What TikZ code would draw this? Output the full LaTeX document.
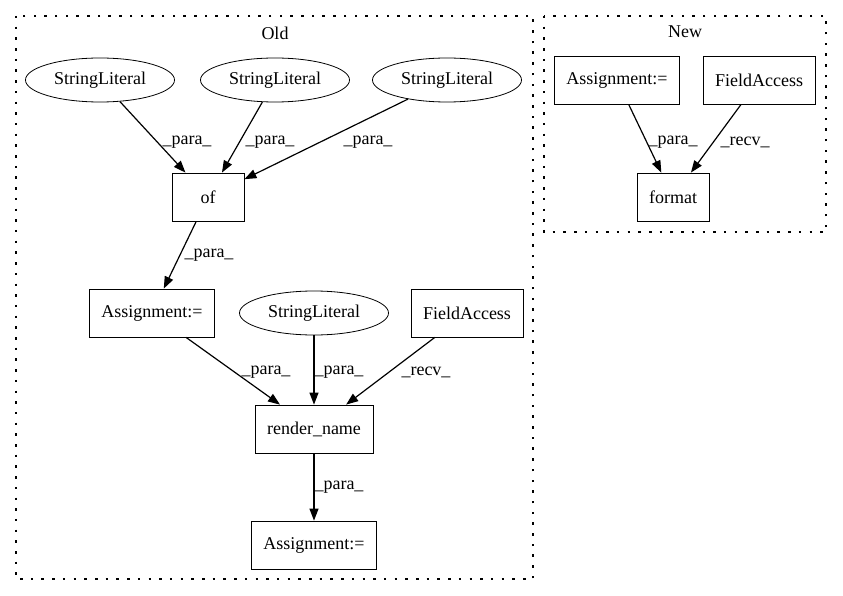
\documentclass[tikz,border=0pt]{standalone}
\usepackage{fontspec}
\setmainfont{Liberation Serif}
\usepackage{tikz}
\usetikzlibrary{arrows.meta}
\usetikzlibrary{shapes.geometric}

\begin{document}
\begin{tikzpicture}[x=1pt,y=-1pt,
    every node/.style={font=\fontsize{18}{21}\selectfont},
    box/.style={draw,thick,rectangle,minimum height=48pt,minimum width=72pt,inner xsep=12pt},
    lit/.style={draw,thick,ellipse,minimum height=44pt,minimum width=149pt,inner sep=0pt},
    edge/.style={draw,line width=1.2pt,-{Triangle[length=12pt,width=9pt]}},
    elabel/.style={inner sep=0pt},
    cluster/.style={line width=1.2pt,dash pattern=on 2.5pt off 8.2pt}]
  \useasboundingbox (0,0) rectangle (843,596);
  % clusters
  \draw[cluster] (16,16) rectangle (533,579);
  \draw[cluster] (544,16) rectangle (826,232);
  \node (oldlabel) at (275,33) {Old};
  \node (newlabel) at (685,32) {New};
  % old
  \node[lit] (lit1) at (100,80) {StringLiteral};
  \node[lit] (lit2) at (275,80) {StringLiteral};
  \node[lit] (lit3) at (447,80) {StringLiteral};
  \node[box] (of) at (208,197) {of};
  \node[box] (assign1) at (152,313) {Assignment:=};
  \node[lit] (lit4) at (314,313) {StringLiteral};
  \node[box] (field1) at (467,313) {FieldAccess};
  \node[box] (render) at (314,429) {render\_name};
  \node[box] (assign2) at (314,545) {Assignment:=};
  % new
  \node[box] (assign3) at (617,80) {Assignment:=};
  \node[box] (field2) at (759,80) {FieldAccess};
  \node[box] (format) at (673,197) {format};
  % edges
  \draw[edge] (lit1) -- (of) node[elabel,at={(187,142)}] {\_para\_};
  \draw[edge] (lit2) -- (of) node[elabel,at={(270,142)}] {\_para\_};
  \draw[edge] (lit3) -- (of) node[elabel,at={(368,142)}] {\_para\_};
  \draw[edge] (of) -- (assign1) node[elabel,at={(209,255)}] {\_para\_};
  \draw[edge] (assign1) -- (render) node[elabel,at={(266,372)}] {\_para\_};
  \draw[edge] (lit4) -- (render) node[elabel,at={(339,372)}] {\_para\_};
  \draw[edge] (field1) -- (render) node[elabel,at={(426,372)}] {\_recv\_};
  \draw[edge] (render) -- (assign2) node[elabel,at={(339,487)}] {\_para\_};
  \draw[edge] (assign3) -- (format) node[elabel,at={(673,142)}] {\_para\_};
  \draw[edge] (field2) -- (format) node[elabel,at={(745,142)}] {\_recv\_};
\end{tikzpicture}
\end{document}
